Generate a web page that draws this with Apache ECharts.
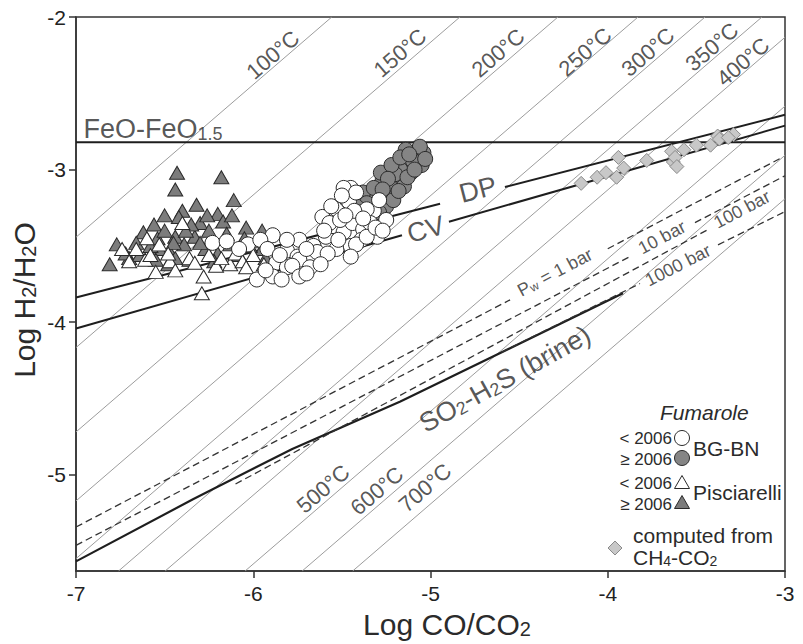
<!DOCTYPE html>
<html><head><meta charset="utf-8">
<script src="https://cdn.jsdelivr.net/npm/echarts@6/dist/echarts.min.js"></script>
<style>html,body{margin:0;padding:0;background:#fff}#c{width:803px;height:644px}</style>
</head><body><div id="c"></div>
<script>
// ---------- data ----------
const xTicks = [-7, -6, -5, -4, -3];
const yTicks = [-5, -4, -3, -2];
const isoNames = ['100°C','150°C','200°C','250°C','300°C','350°C','400°C','500°C','600°C','700°C'];
const isoOffsets = [3.557, 2.834, 2.281, 1.829, 1.451, 1.13, 0.867, 0.416, 0.094, -0.191];
const feoLevel = -2.82;
const dpEnds = [[-7, -3.838], [-3, -2.641]];
const dpGap = [-4.946, -4.58];
const cvEnds = [[-7, -4.041], [-3, -2.712]];
const cvGap = [-5.161, -4.896];
const so2Line = [[-7, -5.567], [-6.34, -5.16], [-5.78, -4.83], [-5.17, -4.52], [-3.914, -3.81]];
const pw1Ends = [[-7, -5.342], [-3.011, -2.917]];
const pw1Gap = [-4.551, -4.0];
const pw10Ends = [[-7, -5.462], [-3, -3.04]];
const pw10Gap = [-3.874, -3.508];
const pw100Ends = [[-6.1, -5.06], [-3.43, -3.39]];
const pw1000Ends = [[-4.6, -4.197], [-3.0, -3.275]];
const pw1000Gap = [-3.818, -3.378];

const pisNew = [[-6.43,-3.02],[-6.18,-3.05],[-6.44,-3.13],[-6.11,-3.20],[-6.32,-3.23],[-6.40,-3.27],[-6.20,-3.29],[-6.56,-3.36],[-6.30,-3.35],[-6.17,-3.34],[-6.04,-3.38],[-5.95,-3.40],[-6.77,-3.49],[-6.62,-3.41],[-6.54,-3.45],[-6.44,-3.44],[-6.33,-3.44],[-6.81,-3.62],[-6.70,-3.58],[-6.53,-3.52],[-6.47,-3.54],[-6.44,-3.58],[-6.39,-3.49],[-6.24,-3.46],[-6.13,-3.49],[-6.08,-3.56],[-6.27,-3.52],[-6.36,-3.59],[-6.55,-3.59],[-5.93,-3.58],[-5.95,-3.52],[-6.64,-3.56],[-6.35,-3.36],[-6.25,-3.40],[-6.45,-3.48],[-6.58,-3.50],[-6.20,-3.55],[-6.02,-3.50],[-6.50,-3.40],[-6.38,-3.40],[-6.15,-3.42],[-6.05,-3.45],[-5.98,-3.47],[-6.66,-3.48],[-6.72,-3.55],[-6.48,-3.62],[-6.22,-3.60],[-6.30,-3.48],[-6.42,-3.31],[-6.26,-3.30],[-6.12,-3.30],[-6.50,-3.30]];
const pisOld = [[-6.74,-3.52],[-6.60,-3.45],[-6.40,-3.35],[-6.61,-3.59],[-6.55,-3.67],[-6.36,-3.58],[-6.25,-3.56],[-6.21,-3.63],[-6.13,-3.62],[-6.10,-3.55],[-6.28,-3.70],[-6.29,-3.81],[-5.94,-3.62],[-6.00,-3.56],[-6.47,-3.60],[-6.70,-3.60],[-6.53,-3.49],[-6.06,-3.60],[-6.66,-3.52],[-6.48,-3.55],[-6.33,-3.61],[-6.18,-3.58],[-6.04,-3.64],[-6.44,-3.66],[-6.58,-3.56]];
const bgbnNew = [[-5.07,-2.87],[-5.08,-2.94],[-5.13,-2.96],[-5.11,-3.02],[-5.17,-3.00],[-5.19,-3.07],[-5.15,-3.11],[-5.23,-3.11],[-5.27,-3.07],[-5.25,-3.18],[-5.29,-3.16],[-5.30,-3.22],[-5.35,-3.19],[-5.25,-3.24],[-5.29,-3.28],[-5.38,-3.15],[-5.21,-3.20],[-5.04,-2.89],[-5.05,-2.97],[-5.10,-2.94],[-5.06,-2.85],[-5.20,-3.03],[-5.33,-3.26],[-5.14,-2.87],[-5.35,-3.26],[-5.32,-3.12],[-5.28,-3.02],[-5.22,-2.97],[-5.17,-2.92],[-5.12,-2.90],[-5.24,-3.06],[-5.18,-3.14],[-5.13,-3.05],[-5.09,-3.00],[-5.27,-3.13],[-5.36,-3.22],[-5.42,-3.24],[-5.03,-2.93]];
const bgbnOld = [[-6.23,-3.48],[-6.03,-3.49],[-5.89,-3.43],[-5.81,-3.53],[-5.74,-3.46],[-5.75,-3.57],[-5.66,-3.58],[-5.87,-3.61],[-5.81,-3.64],[-5.98,-3.72],[-5.89,-3.70],[-5.84,-3.72],[-5.66,-3.50],[-5.59,-3.44],[-5.61,-3.31],[-5.53,-3.26],[-5.47,-3.20],[-5.45,-3.12],[-5.55,-3.37],[-5.49,-3.41],[-5.44,-3.35],[-5.38,-3.39],[-5.32,-3.27],[-5.40,-3.28],[-5.53,-3.52],[-5.45,-3.50],[-5.39,-3.46],[-5.30,-3.44],[-5.25,-3.33],[-5.29,-3.20],[-5.46,-3.21],[-5.49,-3.12],[-5.42,-3.15],[-5.57,-3.35],[-5.51,-3.33],[-5.34,-3.35],[-5.81,-3.46],[-5.74,-3.59],[-5.64,-3.54],[-5.42,-3.49],[-5.36,-3.44],[-5.45,-3.57],[-5.36,-3.26],[-5.96,-3.46],[-5.92,-3.52],[-5.78,-3.63],[-5.74,-3.70],[-5.68,-3.64],[-5.60,-3.40],[-5.52,-3.46],[-5.58,-3.55],[-5.70,-3.52],[-5.85,-3.56],[-5.93,-3.66],[-6.08,-3.52],[-6.15,-3.47],[-5.43,-3.27],[-5.48,-3.30],[-5.56,-3.24],[-5.38,-3.32],[-5.31,-3.38],[-5.27,-3.40],[-5.62,-3.62],[-5.70,-3.68],[-5.50,-3.17]];
const ch4 = [[-4.15,-3.09],[-4.06,-3.05],[-4.01,-3.02],[-3.95,-3.05],[-3.94,-2.92],[-3.91,-2.99],[-3.78,-2.94],[-3.64,-2.88],[-3.63,-2.95],[-3.62,-2.92],[-3.57,-2.87],[-3.50,-2.84],[-3.42,-2.84],[-3.38,-2.78],[-3.37,-2.80],[-3.29,-2.77],[-3.32,-2.79],[-3.61,-2.98]];

// ---------- layout ----------
const X_MIN = -7, X_MAX = -3, Y_MIN = -5.63, Y_MAX = -2;
const GRID = {left: 76, top: 17, width: 709, height: 554};
const FONT = 'Liberation Sans, Arial, sans-serif';
const TXT = '#2b2b2b';
const isoAngle = Math.atan((GRID.height / (Y_MAX - Y_MIN)) / (GRID.width / (X_MAX - X_MIN))) * 180 / Math.PI;
const isoLabelPos = [[-5.889,-2.248],[-5.172,-2.235],[-4.619,-2.235],[-4.128,-2.229],[-3.773,-2.229],[-3.412,-2.196],[-3.237,-2.294],[-5.606,-5.092],[-5.302,-5.105],[-5.031,-5.085]];

function segs(ends, gap) {
  const [[x1, y1], [x2, y2]] = ends;
  const f = x => y1 + (y2 - y1) * (x - x1) / (x2 - x1);
  if (!gap) return [[[x1, y1], [x2, y2]]];
  return [[[x1, y1], [gap[0], f(gap[0])]], [[gap[1], f(gap[1])], [x2, y2]]];
}
function line(data, style, z) {
  return {type: 'line', data: data, symbol: 'none', silent: true, clip: true,
    lineStyle: style, z: z || 2, animation: false};
}
const series = [];
isoOffsets.forEach(c => {
  const x1 = Math.max(X_MIN, Y_MIN - c), x2 = Math.min(X_MAX, Y_MAX - c);
  series.push(line([[x1, x1 + c], [x2, x2 + c]], {color: '#9c9c9c', width: 1}, 1));
});
const black = {color: '#1e1e1e', width: 2};
series.push(line([[X_MIN, feoLevel], [X_MAX, feoLevel]], black));
segs(dpEnds, dpGap).forEach(s => series.push(line(s, black)));
segs(cvEnds, cvGap).forEach(s => series.push(line(s, black)));
series.push(line(so2Line, {color: '#1e1e1e', width: 2.2}));
const dash = {color: '#333', width: 1.3, type: [7, 4]};
segs(pw1Ends, pw1Gap).forEach(s => series.push(line(s, dash)));
segs(pw10Ends, pw10Gap).forEach(s => series.push(line(s, dash)));
segs(pw100Ends).forEach(s => series.push(line(s, dash)));
segs(pw1000Ends, pw1000Gap).forEach(s => series.push(line(s, dash)));

function pts(data, symbol, size, fill, stroke) {
  return {type: 'scatter', data: data, symbol: symbol, symbolSize: size, z: 3, animation: false,
    itemStyle: {color: fill, borderColor: stroke, borderWidth: 1, opacity: 1}};
}
series.push(pts(pisNew, 'triangle', [15, 13], '#7c7c7c', '#2a2a2a'));
series.push(pts(pisOld, 'triangle', [15, 13], '#ffffff', '#2a2a2a'));
series.push(pts(bgbnNew, 'circle', 15, '#858585', '#2a2a2a'));
series.push(pts(bgbnOld, 'circle', 15, '#ffffff', '#2a2a2a'));
series.push(pts(ch4, 'diamond', 14, '#c8c8c8', '#8a8a8a'));

function sub(F) {
  return {n: {fontSize: F, lineHeight: F, fontFamily: FONT, color: TXT},
          s: {fontSize: Math.round(F * 0.66), lineHeight: Math.round(F * 0.5), verticalAlign: 'bottom', fontFamily: FONT, color: TXT}};
}
const labelItems = [];
isoNames.forEach((t, i) => labelItems.push({value: isoLabelPos[i], label: {formatter: t, rotate: isoAngle, fontSize: 22}}));
labelItems.push({value: [-4.732, -3.131], label: {formatter: 'DP', rotate: 14.5, fontSize: 27}});
labelItems.push({value: [-5.026, -3.392], label: {formatter: 'CV', rotate: 16, fontSize: 27}});
labelItems.push({value: [-4.298, -3.673], label: {formatter: '{n|P}{s|w}{n| = 1 bar}', rich: sub(18), rotate: 28}});
labelItems.push({value: [-3.694, -3.444], label: {formatter: '10 bar', rotate: 28, fontSize: 18}});
labelItems.push({value: [-3.243, -3.261], label: {formatter: '100 bar', rotate: 28, fontSize: 18}});
labelItems.push({value: [-3.604, -3.627], label: {formatter: '1000 bar', rotate: 27, fontSize: 18}});
labelItems.push({value: [-4.58, -4.373], label: {formatter: '{n|SO}{s|2}{n|-H}{s|2}{n|S (brine)}', rich: sub(27), rotate: 29}});
labelItems.push({value: [-6.96, -2.735], label: {formatter: '{n|FeO-FeO}{s|1.5}', rich: sub(27), position: 'right', distance: 0, align: 'left'}});
series.push({type: 'scatter', symbol: 'circle', symbolSize: 1, silent: true, z: 4, animation: false,
  itemStyle: {color: 'rgba(0,0,0,0)'},
  label: {show: true, position: 'inside', align: 'center', verticalAlign: 'middle', color: TXT, fontFamily: FONT},
  data: labelItems});

function txt(x, y, text, size, align, extra) {
  return Object.assign({type: 'text', x: x, y: y, silent: true,
    style: {text: text, fontSize: size, fontFamily: FONT, fill: TXT, align: align || 'left', verticalAlign: 'middle'}}, extra || {});
}
function richTxt(x, y, text, F, rot) {
  const r = sub(F);
  return {type: 'text', x: x, y: y, rotation: rot || 0, silent: true,
    style: {text: text, align: 'center', verticalAlign: 'middle', rich: {
      n: {fontSize: F, lineHeight: F, fontFamily: FONT, fill: TXT},
      s: {fontSize: r.s.fontSize, lineHeight: r.s.lineHeight, verticalAlign: 'bottom', fontFamily: FONT, fill: TXT}}}};
}
const graphic = [
  txt(660, 412, 'Fumarole', 21, 'left', {style: {text: 'Fumarole', fontSize: 21, fontStyle: 'italic', fontFamily: FONT, fill: TXT, verticalAlign: 'middle'}}),
  txt(672, 438, '< 2006', 17, 'right'),
  txt(672, 459, '≥ 2006', 17, 'right'),
  txt(672, 483, '< 2006', 17, 'right'),
  txt(672, 504, '≥ 2006', 17, 'right'),
  txt(693, 448, 'BG-BN', 21),
  txt(693, 492, 'Pisciarelli', 21),
  txt(633, 535, 'computed from', 21),
  {type: 'text', x: 633, y: 557, silent: true, style: {text: '{n|CH}{s|4}{n|-CO}{s|2}', verticalAlign: 'middle', rich: {
    n: {fontSize: 21, lineHeight: 21, fontFamily: FONT, fill: TXT},
    s: {fontSize: 14, lineHeight: 10, verticalAlign: 'bottom', fontFamily: FONT, fill: TXT}}}},
  {type: 'circle', shape: {cx: 682, cy: 438, r: 7.5}, style: {fill: '#fff', stroke: '#2a2a2a', lineWidth: 1}},
  {type: 'circle', shape: {cx: 682, cy: 458, r: 7.5}, style: {fill: '#858585', stroke: '#2a2a2a', lineWidth: 1}},
  {type: 'polygon', shape: {points: [[682, 475.5], [689.5, 488.5], [674.5, 488.5]]}, style: {fill: '#fff', stroke: '#2a2a2a', lineWidth: 1}},
  {type: 'polygon', shape: {points: [[682, 495.5], [689.5, 508.5], [674.5, 508.5]]}, style: {fill: '#7c7c7c', stroke: '#2a2a2a', lineWidth: 1}},
  {type: 'polygon', shape: {points: [[615, 541], [622, 548], [615, 555], [608, 548]]}, style: {fill: '#c8c8c8', stroke: '#8a8a8a', lineWidth: 1}},
  richTxt(447, 624, '{n|Log CO/CO}{s|2}', 30),
  richTxt(24, 300, '{n|Log H}{s|2}{n|/H}{s|2}{n|O}', 30, Math.PI / 2)
];

const axisCommon = {
  axisLine: {show: true, lineStyle: {color: '#333', width: 1.5}},
  axisTick: {show: true, inside: false, length: 7, lineStyle: {color: '#333', width: 1.5}},
  splitLine: {show: false},
};
const option = {
  backgroundColor: '#fff',
  animation: false,
  grid: Object.assign({show: true, borderColor: '#333', borderWidth: 1.5, backgroundColor: 'transparent'}, GRID),
  xAxis: Object.assign({type: 'value', min: X_MIN, max: X_MAX, interval: 1,
    axisLabel: {fontSize: 21, color: '#222', fontFamily: FONT, margin: 12, customValues: xTicks},
  }, axisCommon, {axisTick: Object.assign({}, axisCommon.axisTick, {customValues: xTicks})}),
  yAxis: Object.assign({type: 'value', min: Y_MIN, max: Y_MAX,
    axisLabel: {fontSize: 21, color: '#222', fontFamily: FONT, margin: 10, customValues: yTicks},
  }, axisCommon, {axisTick: Object.assign({}, axisCommon.axisTick, {customValues: yTicks})}),
  series: series,
  graphic: graphic
};
const chart = echarts.init(document.getElementById('c'), null, {renderer: 'svg'});
chart.setOption(option);
</script>
</body></html>
